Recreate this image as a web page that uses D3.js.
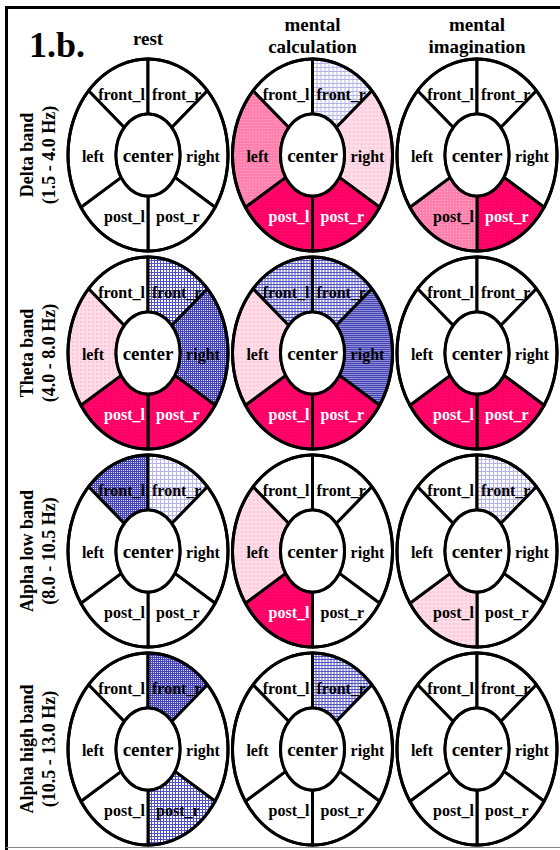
<!DOCTYPE html>
<html>
<head>
<meta charset="utf-8">
<script src="https://cdn.jsdelivr.net/npm/d3@7"></script>
<style>
  html, body { margin: 0; padding: 0; background: #fff; }
  svg { display: block; }
  text { font-family: "Liberation Serif", "Times New Roman", serif; font-weight: bold; }
</style>
</head>
<body>
<svg id="chart" width="560" height="850"></svg>
<script>
// Frequency bands (rows) and task conditions (columns)
const bandNames  = ["Delta band", "Theta band", "Alpha low band", "Alpha high band"];
const bandRanges = ["(1.5 - 4.0 Hz)", "(4.0 - 8.0 Hz)", "(8.0 - 10.5 Hz)", "(10.5 - 13.0 Hz)"];
const conditions = ["rest", "mental calculation", "mental imagination"];
const conditionLines = [["rest"], ["mental", "calculation"], ["mental", "imagination"]];

// Scalp regions drawn as sectors of the ring, in clockwise order from the top
const regions = ["front_l", "front_r", "right", "post_r", "post_l", "left"];

// Change level per region (order as in `regions`), one row per condition:
// positive = increase (pink shades), negative = decrease (blue hatching)
const deltaLevels = [
  [0, 0, 0, 0, 0, 0],
  [0, -1, 1, 3, 3, 2],
  [0, 0, 0, 3, 2, 0]
];
const thetaLevels = [
  [0, -2, -3, 3, 3, 1],
  [-2, -2, -3, 3, 3, 1],
  [0, 0, 0, 3, 3, 0]
];
const alphaLowLevels = [
  [-3, -1, 0, 0, 0, 0],
  [0, 0, 0, 0, 3, 1],
  [0, -1, 0, 0, 1, 0]
];
const alphaHighLevels = [
  [0, -3, 0, -2, 0, 0],
  [0, -2, 0, 0, 0, 0],
  [0, 0, 0, 0, 0, 0]
];
const levelsByBand = [deltaLevels, thetaLevels, alphaLowLevels, alphaHighLevels];

// ---- layout ----
const svg = d3.select("#chart");
const x = d3.scalePoint().domain(conditions).range([148, 477]);
const y = d3.scalePoint().domain(bandNames).range([155, 749]);

const RX = 80, RY = 96;     // outer ellipse radii
const rx = 32, ry = 41;     // inner (center) ellipse radii

// sector boundaries as parametric ellipse angles (degrees)
const sectorAngles = {
  front_l: [-138, -90], front_r: [-90, -42], right: [-42, 33],
  post_r: [33, 90], post_l: [90, 147], left: [147, 222]
};
// label anchor offsets relative to the ellipse centre
const labelPos = {
  front_l: { dx: -3, dy: -55, anchor: "end" },
  front_r: { dx: 4, dy: -55, anchor: "start" },
  left:    { dx: -55, dy: 7, anchor: "middle" },
  right:   { dx: 55, dy: 7, anchor: "middle" },
  post_l:  { dx: -3, dy: 67, anchor: "end" },
  post_r:  { dx: 8, dy: 67, anchor: "start" }
};

// ---- fill patterns ----
const defs = svg.append("defs");
function dotPattern(id, bg, fg, size, dot) {
  const p = defs.append("pattern").attr("id", id).attr("patternUnits", "userSpaceOnUse")
    .attr("width", size).attr("height", size);
  p.append("rect").attr("width", size).attr("height", size).attr("fill", bg);
  p.append("rect").attr("width", dot).attr("height", dot).attr("fill", fg);
}
function gridPattern(id, bg, fg, size) {
  const p = defs.append("pattern").attr("id", id).attr("patternUnits", "userSpaceOnUse")
    .attr("width", size).attr("height", size);
  p.append("rect").attr("width", size).attr("height", size).attr("fill", bg);
  p.append("rect").attr("width", size).attr("height", 1).attr("fill", fg);
  p.append("rect").attr("width", 1).attr("height", size).attr("fill", fg);
}
dotPattern("pink1", "#ffdde8", "#ffc6d9", 4, 2);
dotPattern("pink2", "#ff80ad", "#ffb0cd", 3, 1);
dotPattern("pink3", "#ff0066", "#ff1674", 3, 1);
gridPattern("blue1", "#ffffff", "#b4b4ea", 4);
gridPattern("blue2", "#ffffff", "#5252c8", 3);
gridPattern("blue3", "#d6d6f5", "#4444b4", 2);

function fillFor(level) {
  if (level === 0) return "#ffffff";
  return level > 0 ? `url(#pink${level})` : `url(#blue${-level})`;
}

// sector outline: outer arc from a0 to a1, then inner arc back
function sectorPath(a0, a1) {
  const steps = d3.range(0, 41).map(i => a0 + (a1 - a0) * i / 40);
  const rad = d => d * Math.PI / 180;
  const outer = steps.map(a => [RX * Math.cos(rad(a)), RY * Math.sin(rad(a))]);
  const inner = steps.slice().reverse().map(a => [rx * Math.cos(rad(a)), ry * Math.sin(rad(a))]);
  return d3.line()(outer.concat(inner)) + "Z";
}

// ---- frame ----
svg.append("path")
  .attr("d", "M6.5,850 V7.5 H562")
  .attr("fill", "none").attr("stroke", "#000").attr("stroke-width", 3);
svg.append("line").attr("x1", 6).attr("x2", 560).attr("y1", 847.5).attr("y2", 847.5)
  .attr("stroke", "#888").attr("stroke-width", 1);

// panel tag
svg.append("text").attr("x", 29).attr("y", 57).attr("font-size", 36).text("1.b.");

// column headings
conditions.forEach((c, i) => {
  const lines = conditionLines[i];
  const t = svg.append("text").attr("text-anchor", "middle").attr("font-size", 19);
  lines.forEach((ln, j) => {
    t.append("tspan").attr("x", x(c))
      .attr("y", lines.length === 1 ? 45 : 31 + j * 21.5).text(ln);
  });
});

// row headings (rotated)
bandNames.forEach((b, i) => {
  const g = svg.append("g").attr("transform", `translate(0,${y(b)}) rotate(-90)`);
  g.append("text").attr("text-anchor", "middle").attr("x", 0).attr("y", 33)
    .attr("font-size", 18).text(b);
  g.append("text").attr("text-anchor", "middle").attr("x", 0).attr("y", 55)
    .attr("font-size", 18).text(bandRanges[i]);
});

// diagrams
bandNames.forEach((b, bi) => {
  conditions.forEach((c, ci) => {
    const levels = levelsByBand[bi][ci];
    const g = svg.append("g").attr("transform", `translate(${x(c)},${y(b)})`);

    regions.forEach((r, ri) => {
      const [a0, a1] = sectorAngles[r];
      g.append("path").attr("d", sectorPath(a0, a1))
        .attr("fill", fillFor(levels[ri]))
        .attr("stroke", "#000").attr("stroke-width", 3).attr("stroke-linejoin", "round");
    });
    g.append("ellipse").attr("rx", RX).attr("ry", RY)
      .attr("fill", "none").attr("stroke", "#000").attr("stroke-width", 3);
    g.append("ellipse").attr("rx", rx).attr("ry", ry)
      .attr("fill", "#fff").attr("stroke", "#000").attr("stroke-width", 3);

    regions.forEach((r, ri) => {
      const lp = labelPos[r];
      g.append("text").attr("x", lp.dx).attr("y", lp.dy)
        .attr("text-anchor", lp.anchor).attr("font-size", 16)
        .attr("fill", levels[ri] === 3 ? "#fff" : "#000").text(r);
    });
    g.append("text").attr("x", 0).attr("y", 7).attr("text-anchor", "middle")
      .attr("font-size", 19).text("center");
  });
});
</script>
</body>
</html>
